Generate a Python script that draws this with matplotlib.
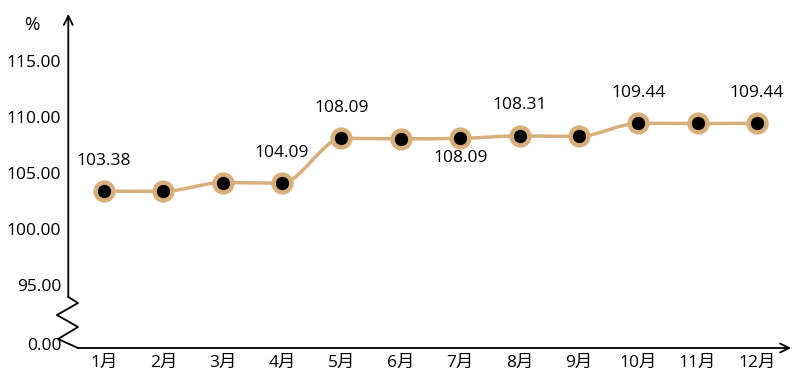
import matplotlib
matplotlib.use("Agg")
import matplotlib.pyplot as plt
from matplotlib.path import Path
from matplotlib.patches import PathPatch
import numpy as np

plt.rcParams['font.family'] = ['Open Sans', 'Noto Sans CJK SC', 'DejaVu Sans']

# 数据
months = ['1月', '2月', '3月', '4月', '5月', '6月', '7月', '8月', '9月', '10月', '11月', '12月']
values = [103.38, 103.36, 104.15, 104.09, 108.09, 108.06, 108.09, 108.31, 108.27, 109.44, 109.42, 109.44]
shown = [True, False, False, True, True, False, True, True, False, True, False, True]
below = [False, False, False, False, False, False, True, False, False, False, False, False]
ytick_vals = [95, 100, 105, 110, 115]
ytick_labels = ['95.00', '100.00', '105.00', '110.00', '115.00']
zero_pos = 89.75  # 断轴后 0.00 的显示位置

line_color = '#D8AE7B'
fs = 12.5

fig = plt.figure(figsize=(7.96, 3.87), dpi=100)
W, H = 796, 387
left, right, top, bottom = 68.3, 790, 15, 348
ax = fig.add_axes([left / W, (H - bottom) / H, (right - left) / W, (bottom - top) / H])

x = np.arange(1, len(months) + 1)
y = np.array(values)

# 平滑曲线 (三次贝塞尔)
pts = np.column_stack([x, y])
tang = np.zeros_like(pts)
for i in range(len(pts)):
    a = pts[max(i - 1, 0)]
    b = pts[min(i + 1, len(pts) - 1)]
    tang[i] = (b - a) / 2
    if 0 < i < len(pts) - 1:
        if (y[i] - y[i - 1]) * (y[i + 1] - y[i]) <= 0:
            tang[i][1] = 0
verts = [tuple(pts[0])]
codes = [Path.MOVETO]
for i in range(len(pts) - 1):
    verts += [tuple(pts[i] + tang[i] * 0.3), tuple(pts[i + 1] - tang[i + 1] * 0.3), tuple(pts[i + 1])]
    codes += [Path.CURVE4] * 3
ax.add_patch(PathPatch(Path(verts, codes), fill=False, ec=line_color, lw=2.5, zorder=2))

ax.plot(x, y, 'o', ms=12.8, mfc='black', mec=line_color, mew=3.2, zorder=3, clip_on=False)

for xi, yi, s, b in zip(x, y, shown, below):
    if not s:
        continue
    off = 14 if b else -22
    ax.annotate('%.2f' % yi, (xi, yi), xytext=(0, -off), textcoords='offset points',
                ha='center', va='center', fontsize=fs, color='black')

ax.set_xlim(1 - (104 - left) / 59.36, 1 + (right - 104) / 59.36)
ax.set_ylim(110 - (bottom - 117) / 11.2, 110 + (117 - top) / 11.2)

ax.set_xticks(x)
ax.set_xticklabels(months, fontsize=fs)
ax.set_yticks([zero_pos] + ytick_vals)
ax.set_yticklabels(['0.00'] + ytick_labels, fontsize=fs)
ax.tick_params(length=0, pad=5)
ax.tick_params(axis='x', pad=5)
for sp in ax.spines.values():
    sp.set_visible(False)

# 坐标轴及断轴
def fx(px):
    return (px - left) / (right - left)

def fy(py):
    return (bottom - py) / (bottom - top)

zig_x = [68.3, 78, 57, 78, 58, 78]
zig_y = [297, 303, 315, 327, 339, 348]
ax.plot([fx(v) for v in zig_x], [fy(v) for v in zig_y], color='black', lw=1.3,
        transform=ax.transAxes, clip_on=False)
ax.annotate('', xy=(fx(68.3), fy(14)), xytext=(fx(68.3), fy(297)), xycoords='axes fraction',
            arrowprops=dict(arrowstyle='->', lw=1.3, color='black', mutation_scale=16,
                            shrinkA=0, shrinkB=0))
ax.annotate('', xy=(fx(791), fy(348)), xytext=(fx(78), fy(348)), xycoords='axes fraction',
            arrowprops=dict(arrowstyle='->', lw=1.3, color='black', mutation_scale=16,
                            shrinkA=0, shrinkB=0))
fig.text(32 / W, 1 - 25 / H, '%', ha='center', va='center', fontsize=13.5)

fig.savefig('out.png', dpi=100)
